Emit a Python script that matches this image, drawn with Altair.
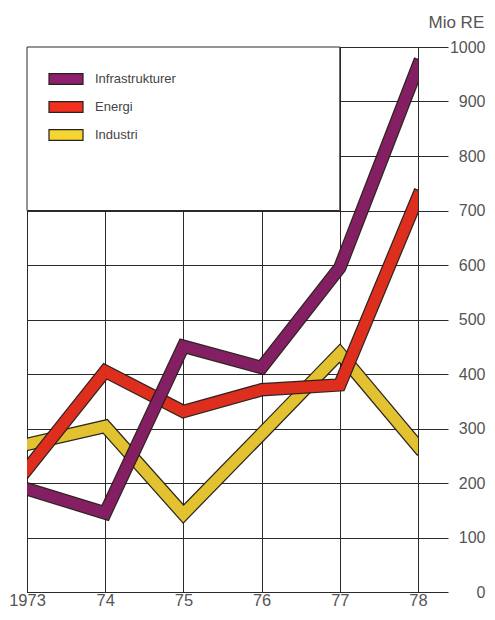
import altair as alt
import pandas as pd

years = [1973, 1974, 1975, 1976, 1977, 1978]
series = ["Infrastrukturer", "Energi", "Industri"]
infra = [189, 145, 451, 412, 595, 965]
energi = [225, 405, 331, 371, 380, 725]
industri = [271, 304, 143, 290, 438, 267]
colors = ["#8e1f6c", "#f2301e", "#f6d432"]
y_ticks = list(range(0, 1001, 100))

rows = []
for name, vals in zip(series, [infra, energi, industri]):
    for yr, v in zip(years, vals):
        rows.append({"year": yr, "value": v, "series": name})
df = pd.DataFrame(rows)

box = pd.DataFrame({"year": [1973], "year2": [1977], "value": [700], "value2": [1000]})

FONT = "Liberation Sans"
GRID = "#2a2a2a"
xscale = alt.Scale(domain=[1973, 1978], nice=False)
yscale = alt.Scale(domain=[0, 1000], nice=False)

x_axis = alt.Axis(values=years, grid=True, gridColor=GRID, gridOpacity=1, ticks=False,
                  domainColor=GRID, labelExpr="datum.value == 1973 ? '1973' : slice(toString(datum.value), 2)",
                  labelFontSize=16.5, labelColor="#555", labelFont=FONT, labelPadding=0,
                  labelFlush=False, labelOverlap=False, title=None)
y_axis = alt.Axis(orient="right", values=y_ticks, format="d", grid=True, gridColor=GRID, gridOpacity=1,
                  tickSize=30, tickColor=GRID, domainColor=GRID, labelAlign="right", labelBaseline="middle",
                  labelPadding=37, labelFontSize=16, labelColor="#555", labelFont=FONT,
                  labelOverlap=False, labelFlush=False,
                  title="Mio RE", titleAngle=0, titleAlign="left", titleBaseline="middle",
                  titleX=10, titleY=-25, titleFontWeight="normal", titleFontSize=17,
                  titleColor="#555", titleFont=FONT)

def xenc():
    return alt.X("year:Q", scale=xscale, axis=x_axis)

def yenc():
    return alt.Y("value:Q", scale=yscale, axis=y_axis)

box_layer = alt.Chart(box).mark_rect(fill="white", stroke=GRID, strokeWidth=1).encode(
    x=xenc(), x2="year2:Q", y=yenc(), y2="value2:Q")

layers = [box_layer]
for name, col in reversed(list(zip(series, colors))):
    sub = alt.Chart(df).transform_filter(alt.datum.series == name)
    layers.append(sub.mark_line(stroke="#231a14", strokeWidth=13.5, strokeCap="square",
                                strokeJoin="miter", clip=True, opacity=0.95).encode(x=xenc(), y=yenc()))
    layers.append(sub.mark_line(stroke=col, strokeWidth=11, strokeCap="square",
                                strokeJoin="miter", clip=True, opacity=0.9).encode(x=xenc(), y=yenc()))

rect_path = "M-1,-0.32H1V0.32H-1Z"
legend_layer = alt.Chart(df).transform_filter(alt.datum.value < 0).mark_point(
    filled=True, shape=rect_path, opacity=1).encode(
    x=xenc(), y=yenc(),
    fill=alt.Fill("series:N", scale=alt.Scale(domain=series, range=colors),
                  legend=alt.Legend(orient="none", legendX=21, legendY=14, title=None,
                                    symbolType=rect_path, symbolSize=1156,
                                    symbolStrokeColor="#222", symbolStrokeWidth=1.2,
                                    labelFontSize=13, labelColor="#444", labelFont=FONT,
                                    labelOffset=11, rowPadding=2, padding=0)))
layers.append(legend_layer)

chart = alt.layer(*layers).properties(
    width=391, height=545,
    autosize=alt.AutoSizeParams(type="none"),
    padding={"left": 19, "top": 39, "right": 69, "bottom": 16},
    background="white",
).configure_view(stroke=GRID, strokeWidth=1)

chart.save("out.html", embed_options={"renderer": "svg", "actions": False})
